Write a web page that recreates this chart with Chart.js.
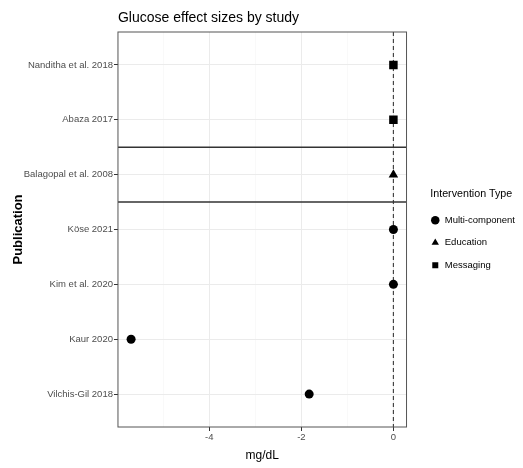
<!DOCTYPE html>
<html>
<head>
<meta charset="utf-8">
<script src="https://cdn.jsdelivr.net/npm/chart.js@4"></script>
<style>
  html, body { margin: 0; padding: 0; background: #fff; }
  #wrap { width: 523px; height: 468px; }
</style>
</head>
<body>
<div id="wrap"><canvas id="forest"></canvas></div>
<script>
// studies, top to bottom
const publications = [
    'Nanditha et al. 2018',
    'Abaza 2017',
    'Balagopal et al. 2008',
    'Köse 2021',
    'Kim et al. 2020',
    'Kaur 2020',
    'Vilchis-Gil 2018'
];
const effectSizes = [0, 0, 0, 0, 0, -5.7, -1.83];
const interventionTypes = [
    'Messaging', 'Messaging', 'Education',
    'Multi-component', 'Multi-component', 'Multi-component', 'Multi-component'
];
const typeOrder = ['Multi-component', 'Education', 'Messaging'];
const typeShapes = ['circle', 'triangle', 'rect'];
const typeRadius = [4.5, 5.5, 6];

const separators = [1.5, 2.5];   // lines around Balagopal
const refValue = 0;              // dashed no-effect line
const xTicks = [-5, -4, -3, -2, -1, 0];
const xMin = -5.985, xMax = 0.285;
const yMin = -0.6, yMax = 6.6;

const sans = "'Liberation Sans', Arial, Helvetica, sans-serif";
Chart.defaults.font.family = sans;

function graph_draw() {
    const ctx = document.getElementById('forest').getContext('2d');

    const pointSets = typeOrder.map(function (t, k) {
        const pts = [];
        publications.forEach(function (p, i) {
            if (interventionTypes[i] === t) pts.push({ x: effectSizes[i], y: i });
        });
        return {
            type: 'scatter',
            label: t,
            data: pts,
            pointStyle: typeShapes[k],
            pointRadius: typeRadius[k],
            backgroundColor: '#000',
            borderColor: '#000',
            borderWidth: 0
        };
    });

    const sepSets = separators.map(function (y) {
        return {
            type: 'line',
            label: '',
            data: [{ x: xMin, y: y }, { x: xMax, y: y }],
            borderColor: '#333',
            borderWidth: 1.5,
            pointRadius: 0
        };
    });

    const refSet = {
        type: 'line',
        label: '',
        data: [{ x: refValue, y: yMin }, { x: refValue, y: yMax }],
        borderColor: '#444',
        borderWidth: 1.2,
        borderDash: [4, 3],
        pointRadius: 0
    };

    // frame round the panel + left aligned title,
    // and a small gap between panel and legend
    const panelFrame = {
        id: 'panelFrame',
        afterLayout(chart) {
            if (chart.legend) {
                chart.legend.left += 11;
                chart.legend.right += 11;
            }
        },
        afterDraw(chart) {
            const c = chart.ctx, a = chart.chartArea;
            c.save();
            c.strokeStyle = '#555';
            c.lineWidth = 1;
            c.strokeRect(a.left, a.top, a.right - a.left, a.bottom - a.top);
            c.fillStyle = '#000';
            c.font = '14px ' + sans;
            c.textBaseline = 'alphabetic';
            c.fillText('Glucose effect sizes by study', a.left, 22);
            c.restore();
        }
    };

    new Chart(ctx, {
        type: 'scatter',
        data: { datasets: pointSets.concat(sepSets, [refSet]) },
        plugins: [panelFrame],
        options: {
            responsive: true,
            maintainAspectRatio: false,
            animation: false,
            events: [],
            layout: { padding: { left: 5, top: 32, bottom: 4.8, right: 9 } },
            plugins: {
                tooltip: { enabled: false },
                legend: {
                    position: 'right',
                    align: 'start',
                    title: {
                        display: true,
                        text: 'Intervention Type',
                        position: 'center',
                        color: '#000',
                        font: { size: 10.7 },
                        padding: { top: 156.6, bottom: 1 }
                    },
                    labels: {
                        usePointStyle: true,
                        boxWidth: 9.5,
                        boxHeight: 6,
                        color: '#000',
                        font: { size: 9.5 },
                        padding: 13,
                        filter: function (item) { return item.datasetIndex < 3; }
                    }
                }
            },
            scales: {
                x: {
                    type: 'linear',
                    min: xMin,
                    max: xMax,
                    afterBuildTicks: function (s) { s.ticks = xTicks.map(function (v) { return { value: v }; }); },
                    ticks: {
                        autoSkip: false,
                        maxRotation: 0,
                        padding: 1,
                        color: '#4d4d4d',
                        font: { size: 9.5 },
                        callback: function (v) { return v % 2 === 0 ? String(v) : ''; }
                    },
                    grid: {
                        color: function (c) { return c.tick && c.tick.value % 2 !== 0 ? '#f5f5f5' : '#ebebeb'; },
                        lineWidth: function (c) { return c.tick && c.tick.value % 2 !== 0 ? 0.6 : 1; },
                        tickColor: function (c) { return c.tick && c.tick.value % 2 !== 0 ? 'rgba(0,0,0,0)' : '#333'; },
                        tickLength: 4
                    },
                    border: { display: false },
                    title: {
                        display: true,
                        text: 'mg/dL',
                        color: '#000',
                        font: { size: 12 },
                        padding: { top: 4.4, bottom: 0 }
                    }
                },
                y: {
                    type: 'linear',
                    min: yMin,
                    max: yMax,
                    reverse: true,
                    afterBuildTicks: function (s) { s.ticks = publications.map(function (p, i) { return { value: i }; }); },
                    ticks: {
                        autoSkip: false,
                        padding: 1,
                        color: '#4d4d4d',
                        font: { size: 9.5 },
                        callback: function (v) { return publications[v]; }
                    },
                    grid: { color: '#ebebeb', tickColor: '#333', tickLength: 4 },
                    border: { display: false },
                    title: {
                        display: true,
                        text: 'Publication',
                        color: '#000',
                        font: { size: 13, weight: 'bold', lineHeight: 1 },
                        padding: { top: 6.5, bottom: -1.8 }
                    }
                }
            }
        }
    });
}

graph_draw();
</script>
</body>
</html>
